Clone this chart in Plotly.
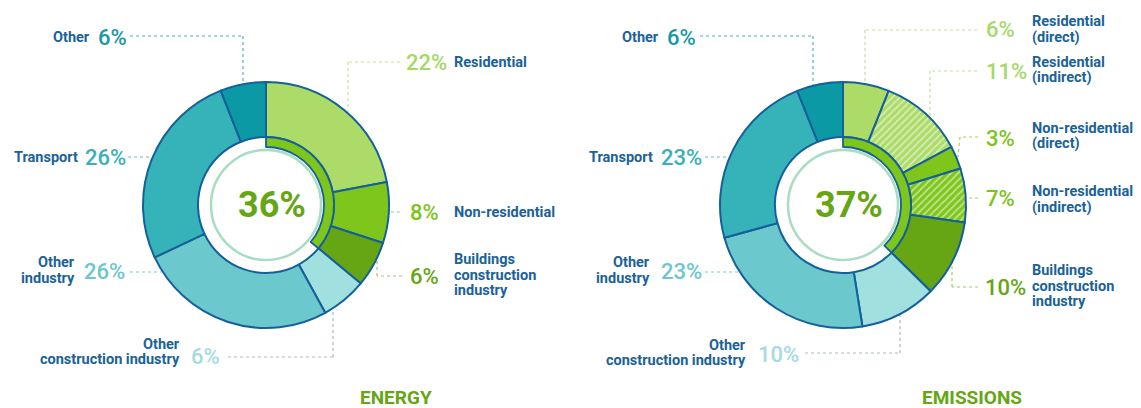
import plotly.graph_objects as go

W, H = 1141, 408

# ---------------- data ----------------
energy_categories = ["Residential", "Non-residential", "Buildings construction industry",
                     "Other construction industry", "Other industry", "Transport", "Other"]
energy_values = [22, 8, 6, 6, 26, 26, 6]
energy_buildings_share = 36

emission_categories = ["Residential (direct)", "Residential (indirect)", "Non-residential (direct)",
                       "Non-residential (indirect)", "Buildings construction industry",
                       "Other construction industry", "Other industry", "Transport", "Other"]
emission_values = [6, 11, 3, 7, 10, 10, 23, 23, 6]
emission_buildings_share = 37

energy_label_text = ["Residential", "Non-residential", "Buildings<br>construction<br>industry",
                     "Other<br>construction industry", "Other<br>industry", "Transport", "Other"]
emission_label_text = ["Residential<br>(direct)", "Residential<br>(indirect)",
                       "Non-residential<br>(direct)", "Non-residential<br>(indirect)",
                       "Buildings<br>construction<br>industry", "Other<br>construction industry",
                       "Other<br>industry", "Transport", "Other"]
titles = ["ENERGY", "EMISSIONS"]

# ---------------- styles ----------------
C_RES = "#acdb68"
C_NRES = "#7ec61b"
C_BCI = "#66a614"
C_OCI = "#a0e0de"
C_OI = "#6bc8cc"
C_TR = "#36b2b9"
C_OT = "#0b9aa5"
OUTLINE = "#15609a"
TXT = "#1a6298"
FONT = "Roboto, 'Open Sans', sans-serif"
LINE_STEP = 15.5

energy_colors = [C_RES, C_NRES, C_BCI, C_OCI, C_OI, C_TR, C_OT]
energy_pct_colors = ["#a6d86a", "#7cc31c", "#66a514", "#a3dcdd", "#6cc7cc", "#38b0b8", "#1499a3"]
energy_lead_colors = ["#c2e29a", "#9fd35c", "#9ccb6a", "#a9b9c9", "#7dcdd2", "#5cbcc3", "#4fb3ba"]

emission_colors = [C_RES, C_RES, C_NRES, C_NRES, C_BCI, C_OCI, C_OI, C_TR, C_OT]
emission_pattern = ["", "/", "", "/", "", "", "", "", ""]
emission_pct_colors = ["#a6d86a", "#a6d86a", "#7cc31c", "#7cc31c", "#66a514",
                       "#a3dcdd", "#6cc7cc", "#38b0b8", "#1499a3"]
emission_lead_colors = ["#c2e29a", "#c2e29a", "#9fd35c", "#9fd35c", "#9ccb6a",
                        "#a9b9c9", "#7dcdd2", "#5cbcc3", "#4fb3ba"]

R_OUT, R_IN, R_ARC_IN, R_MINT = 123, 68, 58, 55
centers = [(266, 205), (843, 205)]


def px(x):
    return x / W


def py(y):
    return 1 - y / H


def dom(cx, cy, r):
    return dict(x=[px(cx - r), px(cx + r)], y=[py(cy + r), py(cy - r)])


fig = go.Figure()

# outer rings
for (cx, cy), vals, cols, cats, pat in [
    (centers[0], energy_values, energy_colors, energy_categories, None),
    (centers[1], emission_values, emission_colors, emission_categories, emission_pattern),
]:
    marker = dict(colors=cols, line=dict(color=OUTLINE, width=2))
    if pat is not None:
        marker["pattern"] = dict(shape=pat, fgcolor="#ffffff", bgcolor=cols, fgopacity=0.5,
                                 size=5, solidity=0.35, fillmode="replace")
    fig.add_trace(go.Pie(values=vals, labels=cats, marker=marker, hole=R_IN / R_OUT,
                         sort=False, direction="clockwise", rotation=0,
                         textinfo="none", hoverinfo="label+value", showlegend=False,
                         domain=dom(cx, cy, R_OUT)))

# inner green arcs (buildings share)
for (cx, cy), share, total in [(centers[0], energy_buildings_share, sum(energy_values)),
                                (centers[1], emission_buildings_share, sum(emission_values))]:
    fig.add_trace(go.Pie(values=[share, total - share], labels=["Buildings", "Rest"],
                         marker=dict(colors=[C_NRES, "rgba(0,0,0,0)"],
                                     line=dict(color=OUTLINE, width=[1.8, 0])),
                         hole=R_ARC_IN / R_IN, sort=False, direction="clockwise", rotation=0,
                         textinfo="none", hoverinfo="skip", showlegend=False,
                         domain=dom(cx, cy, R_IN)))

shapes = []
annotations = []

# mint circles and centre numbers
for (cx, cy), share in [(centers[0], energy_buildings_share), (centers[1], emission_buildings_share)]:
    shapes.append(dict(type="circle", xref="paper", yref="paper",
                       x0=px(cx - R_MINT), x1=px(cx + R_MINT), y0=py(cy + R_MINT), y1=py(cy - R_MINT),
                       line=dict(color="#a8dcc3", width=2.5)))
    annotations.append(dict(x=px(cx + 6), y=py(cy), xref="paper", yref="paper", showarrow=False,
                            text=f"{share}%", xanchor="center", yanchor="middle",
                            font=dict(family=FONT, size=36, color=C_BCI, weight="bold")))

# label layout: (percent x, percent y, label x, label centre y, side, leader polyline)
energy_layout = [
    (404, 62, 452, 62, "R", [(400, 62), (348, 62), (348, 112)]),
    (408, 212, 452, 212, "R", [(400, 212), (390, 212)]),
    (408, 276, 452, 275, "R", [(402, 276), (377, 276), (377, 260)]),
    (189, 356, 182, 352, "L", [(228, 357), (333, 357), (333, 309)]),
    (82, 271, 77, 270.5, "L", [(130, 272), (162, 272)]),
    (83, 157, 80, 157, "L", [(128, 157), (152, 157)]),
    (96, 37, 92, 37, "L", [(130, 36), (243, 36), (243, 84)]),
]
emission_layout = [
    (984, 30, 1030, 29.5, "R", [(977, 30), (865, 30), (865, 84)]),
    (984, 71, 1030, 70, "R", [(977, 71), (930, 71), (930, 117)]),
    (984, 138, 1030, 136, "R", [(978, 137), (960, 137), (958, 157)]),
    (984, 198, 1030, 199.5, "R", [(978, 198), (966, 198)]),
    (983, 287, 1030, 286, "R", [(978, 287), (952, 287), (952, 262)]),
    (756, 354, 748, 353, "L", [(805, 353), (900, 353), (900, 313)]),
    (659, 271, 652, 270.5, "L", [(705, 272), (738, 272)]),
    (659, 157, 655, 157, "L", [(705, 157), (730, 157)]),
    (665, 37, 661, 37, "L", [(700, 36), (813, 36), (813, 85)]),
]

for vals, texts, pcols, lcols, lay in [
    (energy_values, energy_label_text, energy_pct_colors, energy_lead_colors, energy_layout),
    (emission_values, emission_label_text, emission_pct_colors, emission_lead_colors, emission_layout),
]:
    for v, t, pc, lc, (pxx, pyy, lx, ly, side, pts) in zip(vals, texts, pcols, lcols, lay):
        annotations.append(dict(x=px(pxx), y=py(pyy), xref="paper", yref="paper", showarrow=False,
                                text=f"{v}%", xanchor="left", yanchor="middle",
                                font=dict(family=FONT, size=22, color=pc, weight=500)))
        lines = t.split("<br>")
        n = len(lines)
        for i, ln in enumerate(lines):
            yy = ly + (i - (n - 1) / 2) * LINE_STEP
            annotations.append(dict(x=px(lx), y=py(yy), xref="paper", yref="paper", showarrow=False,
                                    text=ln, xanchor="left" if side == "R" else "right",
                                    yanchor="middle",
                                    font=dict(family=FONT, size=14.5, color=TXT, weight="bold")))
        for (x0, y0), (x1, y1) in zip(pts[:-1], pts[1:]):
            shapes.append(dict(type="line", xref="paper", yref="paper", layer="below",
                               x0=px(x0), y0=py(y0), x1=px(x1), y1=py(y1),
                               line=dict(color=lc, width=1.2, dash="dot")))

for title, x in zip(titles, [396, 972]):
    annotations.append(dict(x=px(x), y=py(397), xref="paper", yref="paper", showarrow=False,
                            text=title, xanchor="center", yanchor="middle",
                            font=dict(family=FONT, size=19, color=C_BCI, weight="bold")))

fig.update_layout(width=W, height=H, margin=dict(l=0, r=0, t=0, b=0),
                  paper_bgcolor="white", plot_bgcolor="white",
                  shapes=shapes, annotations=annotations)

fig.write_html("out.html", config={"displayModeBar": False},
               post_script="document.body.style.margin='0';document.body.style.overflow='hidden';")
